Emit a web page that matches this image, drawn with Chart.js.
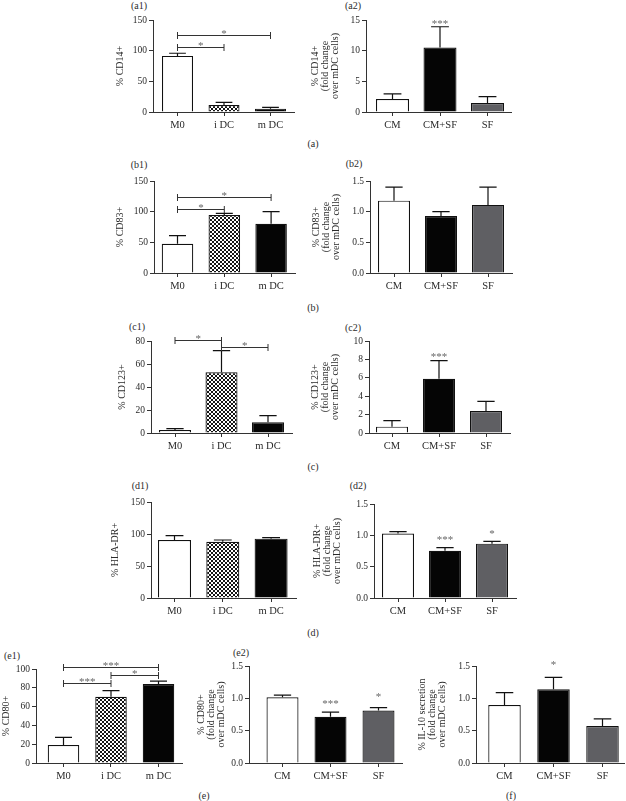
<!DOCTYPE html>
<html><head><meta charset="utf-8">
<script src="https://cdn.jsdelivr.net/npm/chart.js@4.4.1/dist/chart.umd.min.js"></script>
<style>
html,body{margin:0;padding:0;background:#fff;}
#wrap{position:relative;width:626px;height:801px;overflow:hidden;font-family:'Liberation Serif','Times New Roman',serif;color:#2a2a2a;}
#wrap canvas{position:absolute;}
.lab{position:absolute;font-size:10px;transform:translate(-50%,-50%);white-space:nowrap;opacity:0.99;}
</style></head><body><div id="wrap"></div>
<script>
// ---------------- data ----------------
const phenoLabels = ['M0', 'i DC', 'm DC'];
const treatLabels = ['CM', 'CM+SF', 'SF'];

const cd14PhenoMean = [91.5, 11.5, 5.5];
const cd14PhenoSd = [4.3, 4.3, 2];
const cd14PhenoSig = [[0, 1, 106, '*'], [0, 2, 125, '*']];
const cd14PhenoTicks = [0, 50, 100, 150];

const cd14TreatMean = [2.1, 10.5, 1.45];
const cd14TreatSd = [0.85, 3.4, 1.05];
const cd14TreatStars = ['', '***', ''];
const cd14TreatStarLevel = [null, 14.6, null];
const cd14TreatTicks = [0, 5, 10, 15];

const cd83PhenoMean = [47.8, 94.6, 80.4];
const cd83PhenoSd = [13, 2.7, 19.6];
const cd83PhenoSig = [[0, 1, 105, '*'], [0, 2, 124, '*']];
const cd83PhenoTicks = [0, 50, 100, 150];

const cd83TreatMean = [1.18, 0.93, 1.11];
const cd83TreatSd = [0.22, 0.07, 0.29];
const cd83TreatTicks = [0, 0.5, 1.0, 1.5];

const cd123PhenoMean = [2.6, 52.8, 9.3];
const cd123PhenoSd = [1.2, 18.8, 5.8];
const cd123PhenoSig = [[0, 1, 81, '*'], [1, 2, 75, '*']];
const cd123PhenoTicks = [0, 20, 40, 60, 80];

const cd123TreatMean = [0.69, 5.9, 2.39];
const cd123TreatSd = [0.65, 1.96, 1.05];
const cd123TreatStars = ['', '***', ''];
const cd123TreatStarLevel = [null, 8.45, null];
const cd123TreatTicks = [0, 2, 4, 6, 8, 10];

const hladrPhenoMean = [90.6, 88, 92.7];
const hladrPhenoSd = [6.8, 2.6, 1.6];
const hladrPhenoTicks = [0, 50, 100, 150];

const hladrTreatMean = [1.03, 0.755, 0.867];
const hladrTreatSd = [0.03, 0.05, 0.035];
const hladrTreatStars = ['', '***', '*'];
const hladrTreatStarLevel = [null, 0.96, 1.06];
const hladrTreatTicks = [0, 0.5, 1.0, 1.5];

const cd80PhenoMean = [19.2, 70.5, 84];
const cd80PhenoSd = [8, 6.4, 3.2];
const cd80PhenoSig = [[0, 2, 102, '***'], [1, 2, 93.6, '*'], [0, 1, 85, '***']];
const cd80PhenoTicks = [0, 20, 40, 60, 80, 100];

const cd80TreatMean = [1.016, 0.716, 0.81];
const cd80TreatSd = [0.035, 0.07, 0.045];
const cd80TreatStars = ['', '***', '*'];
const cd80TreatStarLevel = [null, 0.95, 1.05];
const cd80TreatTicks = [0, 0.5, 1.0, 1.5];

const il10TreatMean = [0.897, 1.14, 0.572];
const il10TreatSd = [0.19, 0.185, 0.11];
const il10TreatStars = ['', '*', ''];
const il10TreatStarLevel = [null, 1.54, null];
const il10TreatTicks = [0, 0.5, 1.0, 1.5];

// ---------------- drawing ----------------
const wrap = document.getElementById('wrap');
const SERIF = "'Liberation Serif', 'Times New Roman', serif";
const INK = '#2a2a2a';
const phenoFills = ['#ffffff', 'check', '#050505'];
const treatFills = ['#ffffff', '#050505', '#5f5f63'];
const foldTitle = (first) => [first, '(fold change', 'over mDC cells)'];

function makeChecker(ctx) {
  const c = document.createElement('canvas');
  c.width = 4; c.height = 4;
  const x = c.getContext('2d');
  x.fillStyle = '#ffffff'; x.fillRect(0, 0, 4, 4);
  x.fillStyle = '#151515'; x.fillRect(0, 0, 2, 2); x.fillRect(2, 2, 2, 2);
  return ctx.createPattern(c, 'repeat');
}

function panel(cfg) {
  const g = cfg.geo;
  const cl = Math.max(0, g.L - 72);
  const cr = Math.min(626, g.R + 6);
  const ct = g.T - 14;
  const cb = g.B + 28;
  const cv = document.createElement('canvas');
  cv.width = cr - cl; cv.height = cb - ct;
  cv.style.left = cl + 'px'; cv.style.top = ct + 'px';
  cv.style.width = (cr - cl) + 'px'; cv.style.height = (cb - ct) + 'px';
  wrap.appendChild(cv);
  const ctx = cv.getContext('2d');
  const pat = makeChecker(ctx);
  const fills = cfg.fills.map(f => f === 'check' ? pat : f);
  const xmin = (g.L - g.c0) / g.s, xmax = (g.R - g.c0) / g.s;
  const yt = cfg.yTicks;
  const dec = yt.some(v => v % 1 !== 0) ? 1 : 0;

  const annot = {
    id: 'annot' + cfg.id,
    afterDatasetsDraw(chart) {
      const c = chart.ctx, ys = chart.scales.y;
      const meta = chart.getDatasetMeta(0);
      c.save();
      c.strokeStyle = '#111'; c.lineWidth = 1.2;
      cfg.mean.forEach((m, i) => {
        const bar = meta.data[i];
        const x = bar.x;
        const y0 = ys.getPixelForValue(m), y1 = ys.getPixelForValue(m + cfg.sd[i]);
        const hw = bar.width * 0.27;
        c.beginPath();
        c.moveTo(x, y0); c.lineTo(x, y1);
        c.moveTo(x - hw, y1); c.lineTo(x + hw, y1);
        c.stroke();
      });
      c.strokeStyle = '#333'; c.lineWidth = 1;
      c.font = '11px ' + SERIF; c.fillStyle = '#666';
      c.textAlign = 'center'; c.textBaseline = 'alphabetic';
      (cfg.sig || []).forEach(([a, b, lvl, txt]) => {
        const xa = meta.data[a].x, xb = meta.data[b].x;
        const y = Math.round(ys.getPixelForValue(lvl)) + 0.5;
        c.beginPath();
        c.moveTo(xa, y); c.lineTo(xb, y);
        c.moveTo(xa, y - 3.5); c.lineTo(xa, y + 3.5);
        c.moveTo(xb, y - 3.5); c.lineTo(xb, y + 3.5);
        c.stroke();
        c.fillText(txt, (xa + xb) / 2, y + 1);
      });
      (cfg.stars || []).forEach((t, i) => {
        if (!t) return;
        const x = meta.data[i].x;
        const y = ys.getPixelForValue(cfg.starLevel[i]);
        c.fillText(t, x, y + 5);
      });
      c.restore();
    }
  };

  new Chart(ctx, {
    type: 'bar',
    data: {
      datasets: [{
        data: cfg.mean.map((v, i) => ({ x: i, y: v })),
        backgroundColor: fills,
        borderColor: '#111',
        borderWidth: 1.2,
        borderSkipped: 'start',
        inflateAmount: 0,
        barPercentage: g.bw / g.s,
        categoryPercentage: 1
      }]
    },
    options: {
      responsive: false, animation: false, events: [],
      layout: { padding: { top: 14, right: cr - g.R, bottom: 0, left: 0 } },
      plugins: { legend: { display: false }, tooltip: { enabled: false } },
      scales: {
        x: {
          type: 'linear', min: xmin, max: xmax, offset: false,
          afterBuildTicks: sc => { sc.ticks = cfg.labels.map((_, i) => ({ value: i })); },
          afterFit: sc => { sc.height = 28; },
          ticks: {
            callback: (v, i) => cfg.labels[i], autoSkip: false, maxRotation: 0,
            font: { family: SERIF, size: 10.5 }, color: INK, padding: 3
          },
          grid: { display: true, offset: false, drawOnChartArea: false, drawTicks: true, tickLength: 4, color: '#333', lineWidth: 1 },
          border: { display: true, color: '#333', width: 1, z: 1 }
        },
        y: {
          min: 0, max: yt[yt.length - 1],
          afterBuildTicks: sc => { sc.ticks = yt.map(v => ({ value: v })); },
          afterFit: sc => { sc.width = g.L - cl; },
          ticks: {
            callback: v => dec ? Number(v).toFixed(1) : String(v),
            font: { family: SERIF, size: 9.5 }, color: INK, padding: 2
          },
          grid: { display: true, drawOnChartArea: false, drawTicks: true, tickLength: 4, color: '#333', lineWidth: 1 },
          border: { display: true, color: '#333', width: 1 },
          title: {
            display: true, text: cfg.title, color: INK,
            font: { family: SERIF, size: 10, lineHeight: 1.04 },
            padding: { top: cfg.titleX - cl - 5.2, bottom: 0 }
          }
        }
      }
    },
    plugins: [annot]
  });
}

function label(txt, x, y) {
  const d = document.createElement('div');
  d.className = 'lab'; d.textContent = txt;
  d.style.left = x + 'px'; d.style.top = y + 'px';
  wrap.appendChild(d);
}

// panel labels and captions
label('(a1)', 139, 5); label('(a2)', 353, 5); label('(a)', 313, 143);
label('(b1)', 139, 164); label('(b2)', 354, 163); label('(b)', 313, 307);
label('(c1)', 137, 326); label('(c2)', 353, 327); label('(c)', 313, 466);
label('(d1)', 140, 485); label('(d2)', 358, 485); label('(d)', 313, 632);
label('(e1)', 12, 655); label('(e2)', 241, 652); label('(e)', 204, 795); label('(f)', 511, 795);

panel({ id: 'a1', geo: { L: 153, R: 294, T: 20, B: 112, c0: 177.5, s: 46.5, bw: 31 },
  labels: phenoLabels, mean: cd14PhenoMean, sd: cd14PhenoSd, sig: cd14PhenoSig, fills: phenoFills,
  yTicks: cd14PhenoTicks, title: '% CD14+', titleX: 120 });
panel({ id: 'a2', geo: { L: 366, R: 511, T: 20, B: 112, c0: 392.5, s: 47.5, bw: 33 },
  labels: treatLabels, mean: cd14TreatMean, sd: cd14TreatSd, stars: cd14TreatStars, starLevel: cd14TreatStarLevel,
  fills: treatFills, yTicks: cd14TreatTicks, title: foldTitle('% CD14+'), titleX: 315 });

panel({ id: 'b1', geo: { L: 154, R: 295, T: 181, B: 273, c0: 177.5, s: 46.8, bw: 31.5 },
  labels: phenoLabels, mean: cd83PhenoMean, sd: cd83PhenoSd, sig: cd83PhenoSig, fills: phenoFills,
  yTicks: cd83PhenoTicks, title: '% CD83+', titleX: 120 });
panel({ id: 'b2', geo: { L: 370, R: 512, T: 181, B: 273, c0: 394, s: 47, bw: 32 },
  labels: treatLabels, mean: cd83TreatMean, sd: cd83TreatSd,
  fills: treatFills, yTicks: cd83TreatTicks, title: foldTitle('% CD83+'), titleX: 316 });

panel({ id: 'c1', geo: { L: 151, R: 292, T: 341, B: 433, c0: 175, s: 46.5, bw: 32 },
  labels: phenoLabels, mean: cd123PhenoMean, sd: cd123PhenoSd, sig: cd123PhenoSig, fills: phenoFills,
  yTicks: cd123PhenoTicks, title: '% CD123+', titleX: 122 });
panel({ id: 'c2', geo: { L: 369, R: 510, T: 341, B: 433, c0: 392, s: 47, bw: 32 },
  labels: treatLabels, mean: cd123TreatMean, sd: cd123TreatSd, stars: cd123TreatStars, starLevel: cd123TreatStarLevel,
  fills: treatFills, yTicks: cd123TreatTicks, title: foldTitle('% CD123+'), titleX: 315 });

panel({ id: 'd1', geo: { L: 151, R: 296, T: 502, B: 598, c0: 174.5, s: 48.3, bw: 33 },
  labels: phenoLabels, mean: hladrPhenoMean, sd: hladrPhenoSd, fills: phenoFills,
  yTicks: hladrPhenoTicks, title: '% HLA-DR+', titleX: 115 });
panel({ id: 'd2', geo: { L: 374, R: 516, T: 504, B: 598, c0: 398, s: 47, bw: 32 },
  labels: treatLabels, mean: hladrTreatMean, sd: hladrTreatSd, stars: hladrTreatStars, starLevel: hladrTreatStarLevel,
  fills: treatFills, yTicks: hladrTreatTicks, title: foldTitle('% HLA-DR+'), titleX: 317 });

panel({ id: 'e1', geo: { L: 36, R: 182, T: 669, B: 763, c0: 63.5, s: 47.5, bw: 31.5 },
  labels: phenoLabels, mean: cd80PhenoMean, sd: cd80PhenoSd, sig: cd80PhenoSig, fills: phenoFills,
  yTicks: cd80PhenoTicks, title: '% CD80+', titleX: 6 });
panel({ id: 'e2', geo: { L: 249, R: 402, T: 666, B: 763, c0: 282.5, s: 48, bw: 32 },
  labels: treatLabels, mean: cd80TreatMean, sd: cd80TreatSd, stars: cd80TreatStars, starLevel: cd80TreatStarLevel,
  fills: treatFills, yTicks: cd80TreatTicks, title: foldTitle('% CD80+'), titleX: 201 });
panel({ id: 'f', geo: { L: 476, R: 624, T: 666, B: 763, c0: 504.5, s: 49, bw: 32.5 },
  labels: treatLabels, mean: il10TreatMean, sd: il10TreatSd, stars: il10TreatStars, starLevel: il10TreatStarLevel,
  fills: treatFills, yTicks: il10TreatTicks, title: foldTitle('% IL-10 secretion'), titleX: 422 });
</script>
</body></html>
